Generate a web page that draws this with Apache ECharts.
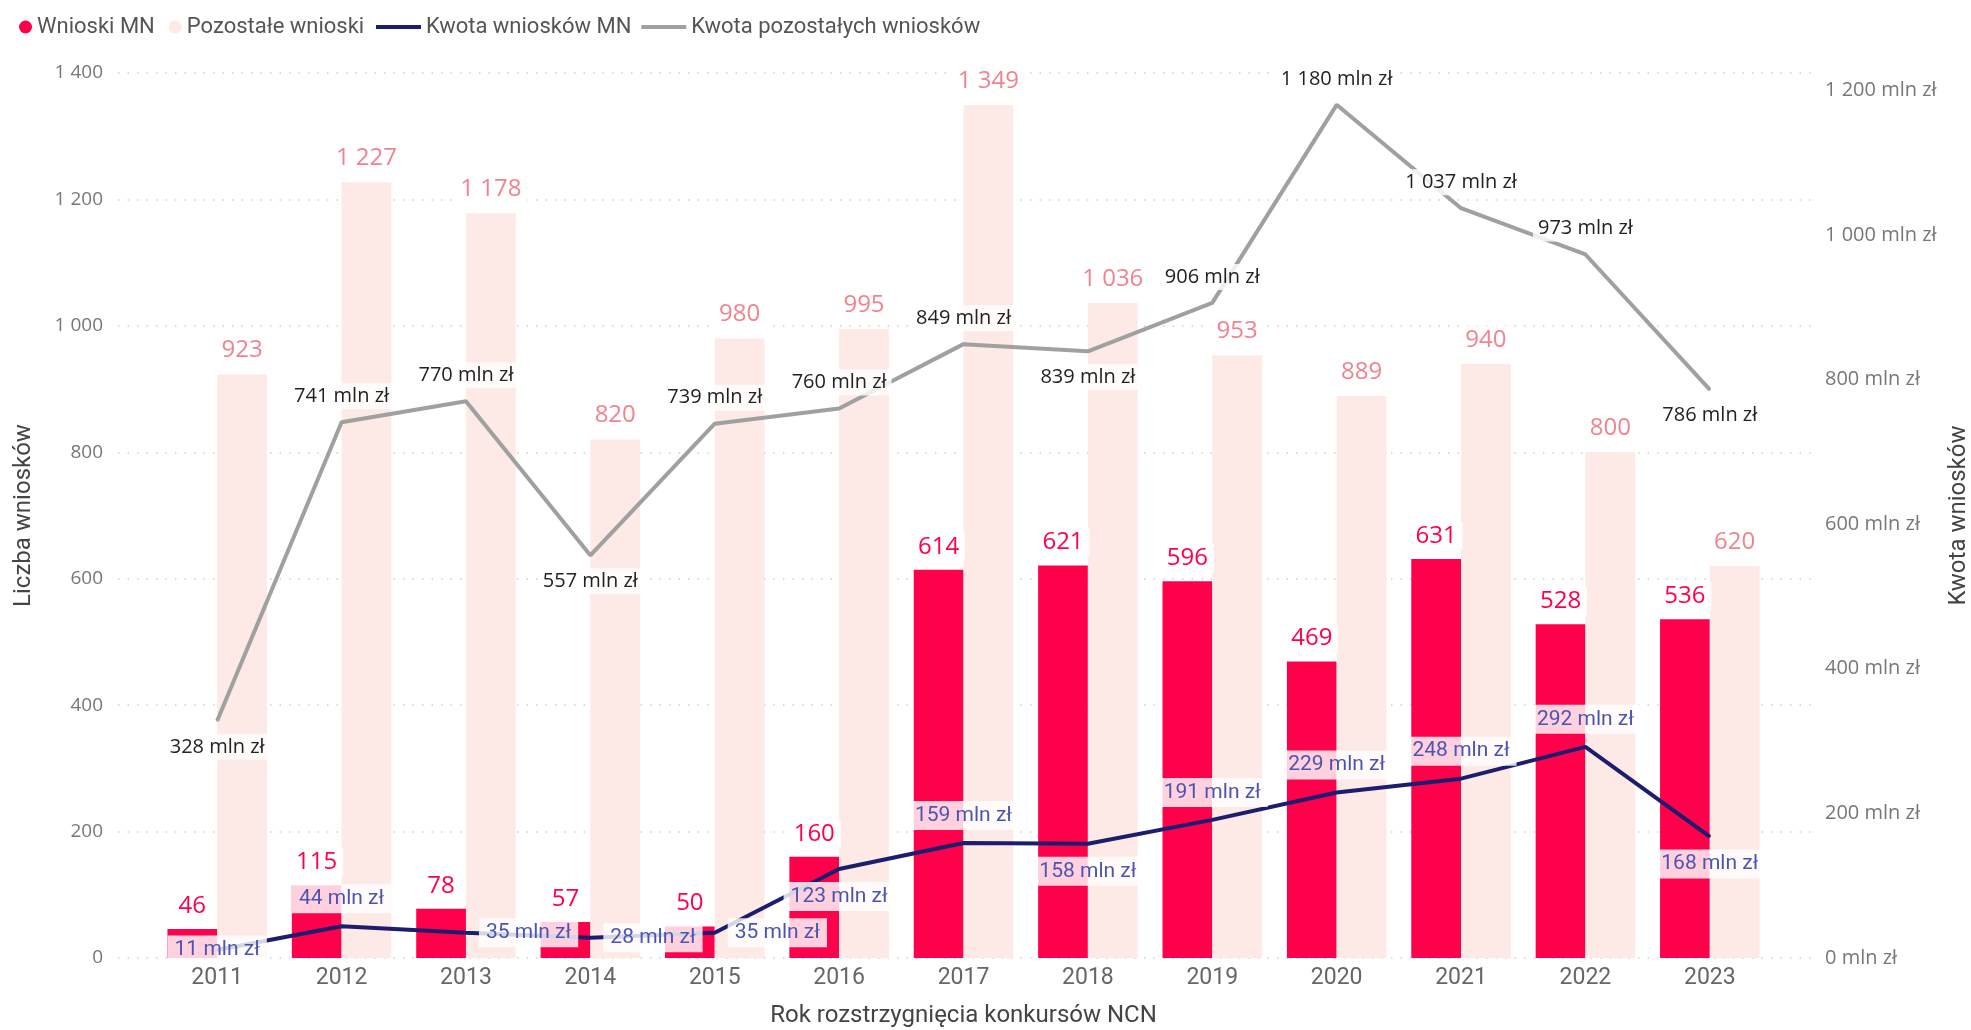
<!DOCTYPE html>
<html>
<head>
<meta charset="utf-8">
<title>Wnioski MN</title>
<script src="https://cdn.jsdelivr.net/npm/echarts@6/dist/echarts.min.js"></script>
<style>
  html, body { margin: 0; padding: 0; background: #fff; }
  #chart { width: 1971px; height: 1030px; }
</style>
</head>
<body>
<div id="chart"></div>
<script>
// dane z wykresu
const years = ['2011', '2012', '2013', '2014', '2015', '2016', '2017', '2018', '2019', '2020', '2021', '2022', '2023'];
const mnCount = [46, 115, 78, 57, 50, 160, 614, 621, 596, 469, 631, 528, 536];
const otherCount = [923, 1227, 1178, 820, 980, 995, 1349, 1036, 953, 889, 940, 800, 620];
const mnAmount = [11, 44, 35, 28, 35, 123, 159, 158, 191, 229, 248, 292, 168];
const otherAmount = [328, 741, 770, 557, 739, 760, 849, 839, 906, 1180, 1037, 973, 786];

// gdzie stoją etykiety linii (tylko układ)
const mnLabelPos = ['inside', 'top', 'right', 'right', 'right', 'bottom', 'top', 'bottom', 'top', 'top', 'top', 'top', 'bottom'];
const otherLabelPos = ['bottom', 'top', 'top', 'bottom', 'top', 'top', 'top', 'bottom', 'top', 'top', 'top', 'top', 'bottom'];

const RED = '#FF004A';
const PINK = '#FDE9E6';
const NAVY = '#1B1D6E';
const GREY = '#A0A0A0';

function fmt(v) {
  return String(v).replace(/\B(?=(\d{3})+(?!\d))/g, ' ');
}

const labelBg = 'rgba(255,255,255,0.82)';

let chart = echarts.init(document.getElementById('chart'));

chart.setOption({
  animation: false,
  backgroundColor: '#fff',
  legend: [
    {
      left: 14, top: 11,
      icon: 'circle',
      itemWidth: 13, itemHeight: 13, itemGap: 14,
      textStyle: { fontFamily: 'Roboto', fontSize: 22, color: '#555' },
      data: ['Wnioski MN', 'Pozostałe wnioski']
    },
    {
      left: 371, top: 11,
      icon: 'rect',
      itemWidth: 45, itemHeight: 4, itemGap: 10,
      textStyle: { fontFamily: 'Roboto', fontSize: 22, color: '#555' },
      data: ['Kwota wniosków MN', 'Kwota pozostałych wniosków']
    }
  ],
  grid: [
    { left: 155, right: 199, top: 73, bottom: 72, outerBoundsMode: 'none', containLabel: false },
    { left: 118, right: 159, top: 73, bottom: 72, outerBoundsMode: 'none', containLabel: false }
  ],
  xAxis: [
    {
      type: 'category', gridIndex: 0, data: years,
      axisLine: { show: false }, axisTick: { show: false },
      axisLabel: { fontFamily: 'Roboto', fontSize: 23, color: '#666', margin: 9 },
      name: 'Rok rozstrzygnięcia konkursów NCN', nameLocation: 'middle', nameGap: 46,
      nameTextStyle: { fontFamily: 'Roboto', fontSize: 24, color: '#444' }
    },
    { type: 'value', gridIndex: 1, min: 0, max: 1, show: false }
  ],
  yAxis: [
    {
      type: 'value', gridIndex: 0, min: 0, max: 1400, interval: 200,
      splitLine: { show: false },
      axisLabel: { fontFamily: 'Open Sans', fontSize: 19, color: '#777', margin: 52, formatter: fmt },
      name: 'Liczba wniosków', nameLocation: 'middle', nameGap: 119,
      nameTextStyle: { fontFamily: 'Roboto', fontSize: 24, color: '#444' }
    },
    {
      type: 'value', gridIndex: 0, position: 'right', min: 0, max: 1224, interval: 200,
      splitLine: { show: false },
      axisLabel: {
        fontFamily: 'Open Sans', fontSize: 20, color: '#777', margin: 53, showMaxLabel: false,
        formatter: function (v) { return fmt(v) + ' mln zł'; }
      },
      name: 'Kwota wniosków', nameLocation: 'middle', nameGap: 173,
      nameTextStyle: { fontFamily: 'Roboto', fontSize: 24, color: '#444' }
    },
    {
      type: 'value', gridIndex: 1, min: 0, max: 1400, interval: 200,
      axisLabel: { show: false }, axisLine: { show: false }, axisTick: { show: false },
      splitLine: { lineStyle: { color: '#CFCFCF', width: 1.5, type: [1.5, 8] } }
    }
  ],
  series: [
    {
      name: 'Wnioski MN', type: 'bar', xAxisIndex: 0, yAxisIndex: 0,
      barCategoryGap: '20%', barGap: '0%',
      itemStyle: { color: RED },
      label: {
        show: true, position: 'top', distance: 9,
        fontFamily: 'Open Sans', fontSize: 24, color: RED,
        backgroundColor: labelBg, padding: [2, 6]
      },
      data: mnCount
    },
    {
      name: 'Pozostałe wnioski', type: 'bar', xAxisIndex: 0, yAxisIndex: 0,
      barCategoryGap: '20%', barGap: '0%',
      itemStyle: { color: PINK },
      label: {
        show: true, position: 'top', distance: 10,
        fontFamily: 'Open Sans', fontSize: 24, color: '#F0848E',
        backgroundColor: labelBg, padding: [2, 6],
        formatter: function (p) { return fmt(p.value); }
      },
      data: otherCount
    },
    {
      name: 'Kwota wniosków MN', type: 'line', xAxisIndex: 0, yAxisIndex: 1,
      symbol: 'circle', symbolSize: 2, showSymbol: true, z: 3,
      lineStyle: { color: NAVY, width: 4 },
      itemStyle: { color: NAVY },
      label: {
        show: true, distance: 12,
        fontFamily: 'Roboto', fontSize: 21, color: '#4B55B0',
        backgroundColor: labelBg, padding: [4, 7],
        formatter: function (p) { return fmt(p.value) + ' mln zł'; }
      },
      data: mnAmount.map(function (v, i) {
        return { value: v, label: { position: mnLabelPos[i] } };
      })
    },
    {
      name: 'Kwota pozostałych wniosków', type: 'line', xAxisIndex: 0, yAxisIndex: 1,
      symbol: 'circle', symbolSize: 2, showSymbol: true, z: 3,
      lineStyle: { color: GREY, width: 4 },
      itemStyle: { color: GREY },
      label: {
        show: true, distance: 12,
        fontFamily: 'Open Sans', fontSize: 20, color: '#222',
        backgroundColor: labelBg, padding: [3, 5],
        formatter: function (p) { return fmt(p.value) + ' mln zł'; }
      },
      data: otherAmount.map(function (v, i) {
        return { value: v, label: { position: otherLabelPos[i] } };
      })
    }
  ]
});
</script>
</body>
</html>
